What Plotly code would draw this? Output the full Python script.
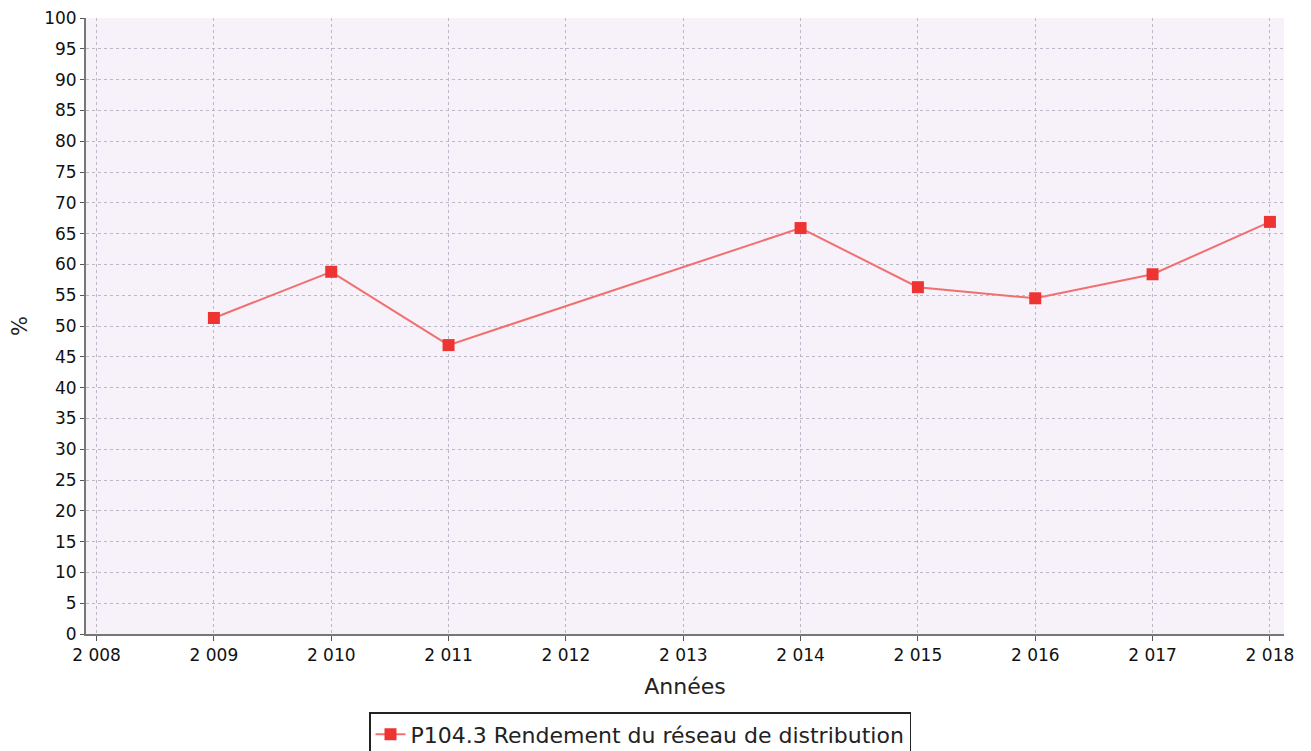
import plotly.graph_objects as go

years = [2009, 2010, 2011, 2014, 2015, 2016, 2017, 2018]
rendement = [51.3, 58.8, 46.9, 65.9, 56.3, 54.5, 58.4, 66.9]
x_ticks = list(range(2008, 2019))
x_tick_labels = ["2 008", "2 009", "2 010", "2 011", "2 012", "2 013", "2 014", "2 015", "2 016", "2 017", "2 018"]
y_ticks = list(range(0, 101, 5))
series_name = "P104.3 Rendement du réseau de distribution"

fig = go.Figure()
fig.add_trace(go.Scatter(
    x=years, y=rendement, mode="lines+markers", name=series_name,
    line=dict(color="#f07070", width=2),
    marker=dict(symbol="square", size=12, color="#ee3333"),
))

W, H = 1303, 743
font_family = "DejaVu Sans, Verdana, sans-serif"
fig.update_layout(
    width=W, height=H,
    margin=dict(l=78, r=27, t=10, b=117),
    paper_bgcolor="white",
    plot_bgcolor="#f7f1fa",
    font=dict(family=font_family, size=17, color="#111"),
    showlegend=True,
    legend=dict(
        orientation="h", x=632 / W, xanchor="center", xref="container",
        y=(H - 704) / H, yanchor="top", yref="container",
        bordercolor="#222", borderwidth=1.5, bgcolor="white",
        font=dict(size=22, family=font_family, color="#222"),
        itemwidth=30,
    ),
)
fig.update_xaxes(
    range=[2007.91, 2018.12], tickvals=x_ticks, ticktext=x_tick_labels,
    showline=True, linecolor="#777", linewidth=2, mirror=False,
    ticks="outside", ticklen=5, tickcolor="#555",
    showgrid=True, gridcolor="#bdb8c8", griddash="dot", gridwidth=1,
    zeroline=False, automargin=False, ticklabeloverflow="allow",
    title=dict(text="Années", font=dict(size=22, family=font_family, color="#222"), standoff=14),
    tickfont=dict(size=17),
)
fig.update_yaxes(
    range=[0, 100], tickvals=y_ticks,
    showline=True, linecolor="#777", linewidth=2,
    ticks="outside", ticklen=4, tickcolor="#555",
    showgrid=True, gridcolor="#bdb8c8", griddash="dot", gridwidth=1,
    zeroline=False, automargin=False, ticklabeloverflow="allow",
    title=dict(text="%", font=dict(size=21, family=font_family, color="#222"), standoff=14),
    tickfont=dict(size=17),
)

fig.write_html("out.html")
